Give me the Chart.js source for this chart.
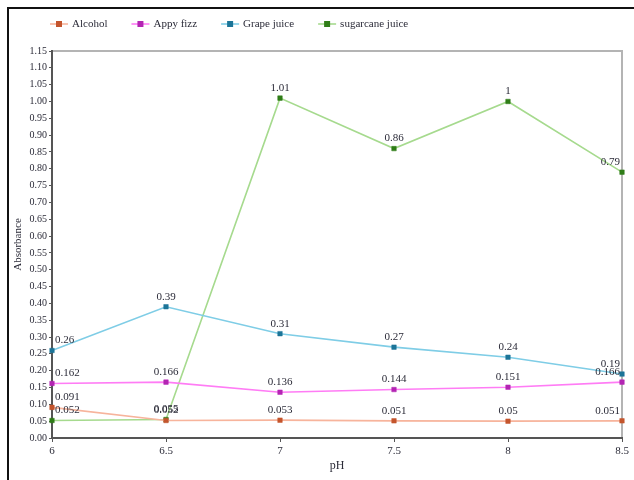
<!DOCTYPE html>
<html>
<head>
<meta charset="utf-8">
<script src="https://cdn.jsdelivr.net/npm/chart.js@4.4.1/dist/chart.umd.min.js"></script>
<style>
  html, body { margin: 0; padding: 0; background: #ffffff; }
  #wrap { position: relative; width: 634px; height: 480px; }
</style>
</head>
<body>
<div id="wrap"><canvas id="chart" width="634" height="480"></canvas></div>
<script>
// pH values on the x axis
const phLabels = ['6', '6.5', '7', '7.5', '8', '8.5'];

// Absorbance readings per sample
const alcohol   = [0.091, 0.052, 0.053, 0.051, 0.05, 0.051];
const appyFizz  = [0.162, 0.166, 0.136, 0.144, 0.151, 0.166];
const grapeJuice = [0.26, 0.39, 0.31, 0.27, 0.24, 0.19];
const sugarcane = [0.052, 0.055, 1.01, 0.86, 1, 0.79];

const seriesNames = ['Alcohol', 'Appy fizz', 'Grape juice', 'sugarcane juice'];
const lineColors  = ['#f7b49c', '#ff7cf5', '#7fcde6', '#a6da8e'];
const markColors  = ['#c4552d', '#b325b3', '#1c7598', '#2f7d17'];

const FONT = '"Liberation Serif", "Times New Roman", serif';
const TEXT = '#2b2b38';

function makeDataset(label, data, i) {
  return {
    label: label,
    data: data,
    borderColor: lineColors[i],
    backgroundColor: markColors[i],
    pointBackgroundColor: markColors[i],
    pointBorderColor: markColors[i],
    pointStyle: 'rect',
    pointRadius: 3.2,
    pointBorderWidth: 0.5,
    borderWidth: 1.6,
    tension: 0,
    fill: false
  };
}

// frame, legend and value labels
const decorPlugin = {
  id: 'decor',
  beforeDraw(chart) {
    const ctx = chart.ctx;
    ctx.save();
    ctx.fillStyle = '#ffffff';
    ctx.fillRect(0, 0, chart.width, chart.height);
    // outer frame edges
    ctx.strokeStyle = '#111111';
    ctx.lineWidth = 2;
    ctx.beginPath();
    ctx.moveTo(8, 480);
    ctx.lineTo(8, 8);
    ctx.lineTo(634, 8);
    ctx.stroke();
    // plot-area top and right edges
    const a = chart.chartArea;
    ctx.strokeStyle = '#b4b4b4';
    ctx.lineWidth = 2;
    ctx.beginPath();
    ctx.moveTo(a.left, a.top);
    ctx.lineTo(a.right, a.top);
    ctx.lineTo(a.right, a.bottom);
    ctx.stroke();
    ctx.restore();
  },
  afterDatasetsDraw(chart) {
    const ctx = chart.ctx;
    ctx.save();
    // legend
    ctx.font = '11px ' + FONT;
    ctx.textBaseline = 'middle';
    let x = 50;
    const ly = 24;
    seriesNames.forEach((name, i) => {
      ctx.strokeStyle = lineColors[i];
      ctx.lineWidth = 1.6;
      ctx.beginPath();
      ctx.moveTo(x, ly);
      ctx.lineTo(x + 18, ly);
      ctx.stroke();
      ctx.fillStyle = markColors[i];
      ctx.fillRect(x + 6, ly - 3, 6, 6);
      ctx.fillStyle = TEXT;
      ctx.textAlign = 'left';
      ctx.fillText(name, x + 22, ly);
      x += 22 + ctx.measureText(name).width + 24;
    });
    // value labels
    ctx.font = '11px ' + FONT;
    ctx.fillStyle = TEXT;
    ctx.textBaseline = 'middle';
    chart.data.datasets.forEach((ds, di) => {
      const meta = chart.getDatasetMeta(di);
      meta.data.forEach((pt, j) => {
        const txt = String(ds.data[j]);
        let tx = pt.x;
        if (j === 0) { ctx.textAlign = 'left'; tx = pt.x + 3; }
        else if (j === ds.data.length - 1) { ctx.textAlign = 'right'; tx = pt.x - 2; }
        else { ctx.textAlign = 'center'; }
        ctx.fillText(txt, tx, pt.y - 10);
      });
    });
    ctx.restore();
  }
};

new Chart(document.getElementById('chart'), {
  type: 'line',
  data: {
    labels: phLabels,
    datasets: [
      makeDataset(seriesNames[0], alcohol, 0),
      makeDataset(seriesNames[1], appyFizz, 1),
      makeDataset(seriesNames[2], grapeJuice, 2),
      makeDataset(seriesNames[3], sugarcane, 3)
    ]
  },
  options: {
    responsive: false,
    animation: false,
    devicePixelRatio: 1,
    layout: { padding: { top: 51, right: 12, left: 0, bottom: 0 } },
    plugins: {
      legend: { display: false },
      tooltip: { enabled: false }
    },
    scales: {
      x: {
        type: 'category',
        offset: false,
        afterFit(scale) { scale.height = 42; },
        grid: { display: true, drawOnChartArea: false, drawTicks: true, tickLength: 4, color: '#555555' },
        border: { display: true, color: '#555555', width: 2 },
        ticks: { color: TEXT, font: { family: FONT, size: 11 }, padding: 3, maxRotation: 0, autoSkip: false },
        title: { display: true, text: 'pH', color: TEXT, font: { family: FONT, size: 12 }, padding: { top: 0, bottom: 7 } }
      },
      y: {
        min: 0,
        max: 1.15,
        afterFit(scale) { scale.width = 52; },
        afterBuildTicks(scale) {
          const t = [];
          for (let k = 0; k <= 23; k++) t.push({ value: Math.round(k * 5) / 100 });
          scale.ticks = t;
        },
        grid: { display: true, drawOnChartArea: false, drawTicks: true, tickLength: 3, color: '#555555' },
        border: { display: true, color: '#555555', width: 2 },
        ticks: {
          color: TEXT,
          font: { family: FONT, size: 10 },
          padding: 2,
          autoSkip: false,
          callback: (v) => Number(v).toFixed(2)
        },
        title: { display: true, text: 'Absorbance', color: TEXT, font: { family: FONT, size: 11 }, padding: { top: 12, bottom: 0 } }
      }
    }
  },
  plugins: [decorPlugin]
});
</script>
</body>
</html>
